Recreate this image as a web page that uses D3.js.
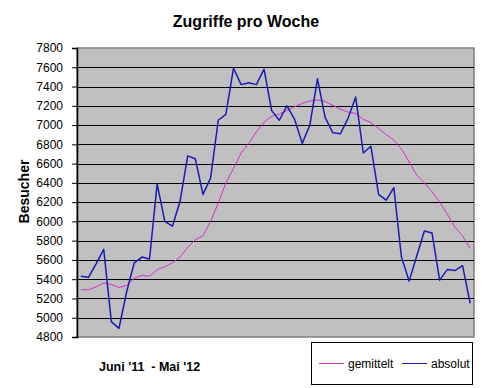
<!DOCTYPE html>
<html>
<head>
<meta charset="utf-8">
<script src="https://cdn.jsdelivr.net/npm/d3@7"></script>
<style>
  body { margin: 0; background: #fff; }
  text { font-family: "Liberation Sans", Arial, sans-serif; }
</style>
</head>
<body>
<script>
// weekly visits, June '11 - May '12
const absolut = [5430, 5420, 5560, 5710, 4960, 4890, 5270, 5570, 5630, 5610,
  6390, 6000, 5950, 6210, 6680, 6650, 6280, 6450, 7050, 7110,
  7590, 7420, 7440, 7420, 7580, 7150, 7050, 7200, 7060, 6810,
  7000, 7480, 7080, 6920, 6910, 7070, 7290, 6710, 6780, 6280,
  6220, 6350, 5630, 5380, 5640, 5900, 5880, 5390, 5500, 5490,
  5540, 5150];
const gemittelt = [5290, 5290, 5320, 5360, 5345, 5315, 5335, 5410, 5440, 5430,
  5500, 5530, 5570, 5630, 5730, 5810, 5850, 6000, 6190, 6400,
  6550, 6710, 6810, 6930, 7030, 7090, 7115, 7150, 7190, 7225,
  7250, 7260, 7245, 7205, 7165, 7135, 7120, 7060, 7025, 6965,
  6900, 6845, 6750, 6620, 6480, 6400, 6310, 6200, 6075, 5940,
  5850, 5720];
const weeks = d3.range(1, absolut.length + 1);
const yTicks = d3.range(4800, 7801, 200);

const width = 486, height = 388;
const plot = { left: 77, right: 474, top: 48, bottom: 337 };

const svg = d3.select("body").append("svg")
    .attr("width", width)
    .attr("height", height);

const x = d3.scalePoint()
    .domain(weeks)
    .range([plot.left, plot.right])
    .padding(0.5);

const y = d3.scaleLinear()
    .domain([4800, 7800])
    .range([plot.bottom, plot.top]);

// plot area
svg.append("rect")
    .attr("x", plot.left)
    .attr("y", plot.top)
    .attr("width", plot.right - plot.left)
    .attr("height", plot.bottom - plot.top)
    .attr("fill", "#c0c0c0")
    .attr("stroke", "#808080")
    .attr("stroke-width", 1.5);

// grid lines
svg.selectAll(".grid")
    .data(yTicks.slice(1, -1))
    .join("line")
    .attr("class", "grid")
    .attr("x1", plot.left)
    .attr("x2", plot.right)
    .attr("y1", d => Math.round(y(d)) + 0.5)
    .attr("y2", d => Math.round(y(d)) + 0.5)
    .attr("stroke", "#000")
    .attr("stroke-width", 1);

// y axis
const yAxis = svg.append("g")
    .attr("transform", `translate(${plot.left},0)`)
    .call(d3.axisLeft(y).tickValues(yTicks).tickSize(5).tickPadding(9).tickFormat(d3.format("d")));
yAxis.select(".domain").attr("stroke", "#000").attr("stroke-width", 1.5);
yAxis.selectAll(".tick line").attr("stroke", "#000");
yAxis.selectAll(".tick text")
    .attr("font-size", 12)
    .attr("fill", "#000")
    .style("font-family", "'Liberation Sans', Arial, sans-serif");

// lines
const line = (vals) => d3.line()
    .x((d, i) => x(weeks[i]))
    .y(d => y(d))(vals);

svg.append("path")
    .attr("d", line(gemittelt))
    .attr("fill", "none")
    .attr("stroke", "#cc33cc")
    .attr("stroke-width", 1);

svg.append("path")
    .attr("d", line(absolut))
    .attr("fill", "none")
    .attr("stroke", "#1a1ab4")
    .attr("stroke-width", 1.5)
    .attr("stroke-linejoin", "round");

// titles
svg.append("text")
    .attr("x", 246)
    .attr("y", 27)
    .attr("text-anchor", "middle")
    .attr("font-size", 16)
    .attr("font-weight", "bold")
    .text("Zugriffe pro Woche");

svg.append("text")
    .attr("transform", "translate(29,191.5) rotate(-90)")
    .attr("text-anchor", "middle")
    .attr("font-size", 14)
    .attr("font-weight", "bold")
    .text("Besucher");

svg.append("text")
    .attr("x", 99)
    .attr("y", 371)
    .attr("font-size", 12.5)
    .attr("font-weight", "bold")
    .attr("xml:space", "preserve")
    .text("Juni '11  - Mai '12");

// legend
const legend = svg.append("g");
legend.append("rect")
    .attr("x", 311.5)
    .attr("y", 342.5)
    .attr("width", 161)
    .attr("height", 42)
    .attr("fill", "#fff")
    .attr("stroke", "#000");

const entries = [
  { name: "gemittelt", color: "#cc33cc", x: 319 },
  { name: "absolut", color: "#1a1ab4", x: 402 }
];
entries.forEach(e => {
  legend.append("line")
      .attr("x1", e.x)
      .attr("x2", e.x + 25)
      .attr("y1", 363.5)
      .attr("y2", 363.5)
      .attr("stroke", e.color);
  legend.append("text")
      .attr("x", e.x + 29)
      .attr("y", 368)
      .attr("font-size", 12)
      .text(e.name);
});
</script>
</body>
</html>
